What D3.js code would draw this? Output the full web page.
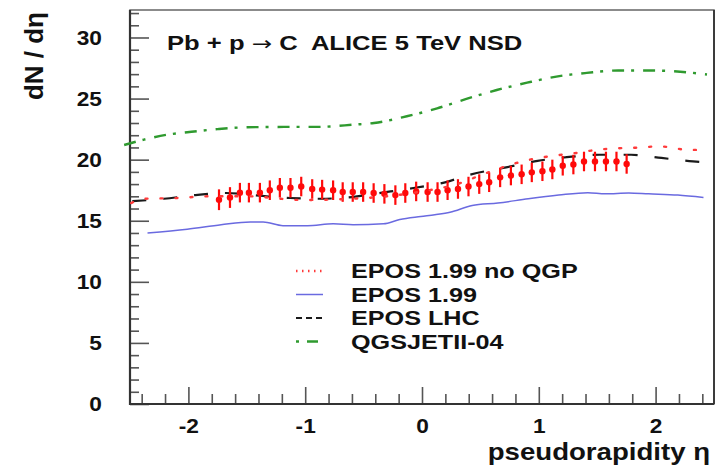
<!DOCTYPE html>
<html><head><meta charset="utf-8">
<script src="https://cdn.jsdelivr.net/npm/d3@7"></script>
<style>
body{margin:0;background:#fff}
svg text{font-family:"Liberation Sans",Arial,Helvetica,sans-serif;font-weight:bold;fill:#111;white-space:pre}
</style>
</head><body>
<svg id="chart" width="716" height="469"></svg>
<script>
// ---- Data ----
const dataEta = [-1.738,-1.644,-1.559,-1.482,-1.388,-1.303,-1.217,-1.126,-1.034,-0.940,
  -0.855,-0.761,-0.679,-0.593,-0.504,-0.414,-0.322,-0.228,-0.143,-0.050,
  0.048,0.133,0.219,0.308,0.398,0.490,0.575,0.669,0.761,0.853,
  0.940,1.031,1.116,1.205,1.296,1.387,1.481,1.575,1.665,1.752];
const dataDNdEta = [16.72,16.9,17.3,17.3,17.3,17.5,17.7,17.7,17.8,17.6,
  17.55,17.5,17.35,17.35,17.35,17.27,17.2,17.1,17.27,17.4,
  17.35,17.35,17.5,17.6,17.8,18.0,18.15,18.55,18.7,18.8,
  18.96,19.05,19.2,19.5,19.6,19.85,19.85,19.85,19.85,19.65];
const dataErr = [0.85,0.85,0.8,0.8,0.8,0.8,0.8,0.8,0.8,0.8,
  0.8,0.8,0.8,0.8,0.8,0.8,0.8,0.8,0.8,0.8,
  0.8,0.8,0.8,0.8,0.8,0.8,0.8,0.8,0.8,0.8,
  0.8,0.8,0.8,0.8,0.8,0.8,0.8,0.8,0.8,0.8];

const eposNoQgpEta = [-2.49,-2.37,-2.09,-1.83,-1.5,-1.03,-0.5,0.0,0.3,0.55,0.81,0.95,1.09,1.36,1.49,1.62,1.75,1.89,2.02,2.29,2.44];
const eposNoQgpVal = [16.45,16.8,16.86,17.0,17.0,16.7,16.85,17.4,18.0,18.9,19.73,20.05,20.27,20.6,20.8,20.9,20.96,21.0,21.1,20.8,20.8];

const epos199Eta = [-2.35,-2.01,-1.72,-1.47,-1.36,-1.19,-0.98,-0.76,-0.59,-0.33,-0.19,-0.01,0.11,0.24,0.43,0.65,0.91,1.17,1.42,1.57,1.77,1.94,2.19,2.41];
const epos199Val = [14.0,14.3,14.67,14.9,14.9,14.6,14.6,14.75,14.67,14.75,15.1,15.35,15.5,15.7,16.25,16.45,16.8,17.1,17.3,17.2,17.27,17.2,17.1,16.9];

const eposLhcEta = [-2.48,-2.21,-1.94,-1.68,-1.39,-1.13,-0.87,-0.60,-0.34,-0.06,0.18,0.41,0.72,0.99,1.24,1.52,1.79,2.05,2.32,2.42];
const eposLhcVal = [16.6,16.8,17.1,17.27,17.05,16.86,16.8,16.94,17.3,17.7,18.1,18.77,19.37,19.9,20.2,20.4,20.4,20.14,19.86,19.8];

const qgsjetEta = [-2.55,-2.38,-2.18,-2.01,-1.75,-1.50,-1.18,-0.90,-0.58,-0.41,-0.13,0.13,0.38,0.64,0.90,1.15,1.41,1.68,1.95,2.21,2.44];
const qgsjetVal = [21.2,21.64,22.05,22.24,22.5,22.65,22.68,22.68,22.87,23.0,23.55,24.2,24.97,25.7,26.3,26.8,27.1,27.3,27.3,27.2,26.97];

const xMajorTicks = [-2,-1,0,1,2];
const xTickLabels = ["-2","-1","0","1","2"];
const yMajorTicks = [0,5,10,15,20,25,30];
const yTickLabels = ["0","5","10","15","20","25","30"];
const legendLabels = ["EPOS 1.99 no QGP","EPOS 1.99","EPOS LHC","QGSJETII-04"];
const titleParts = ["Pb + p ", "\u2192", " C  ALICE 5 TeV NSD"];
const xTitle = "pseudorapidity \u03b7";
const yTitle = "dN / d\u03b7";

// ---- Layout ----
const L = 130, R = 714, T = 10, B = 404;
const svg = d3.select("#chart");
const x = d3.scaleLinear().domain([-2.5, 2.5]).range([L, R]);
const y = d3.scaleLinear().domain([0, 32.25]).range([B, T]);

// frame
svg.append("rect").attr("x", L).attr("y", T).attr("width", R - L).attr("height", B - T)
  .attr("fill", "none").attr("stroke", "#666").attr("stroke-width", 1.5);

// minor ticks
const xMinor = d3.range(-2.4, 2.5, 0.2).filter(v => Math.abs(v - Math.round(v)) > 1e-6);
const yMinor = d3.range(1, 32.1, 1).filter(v => v % 5 !== 0);

const gxMin = svg.append("g").attr("transform", `translate(0,${B})`)
  .call(d3.axisBottom(x).tickValues(xMinor).tickSize(-10).tickFormat(""));
const gyMin = svg.append("g").attr("transform", `translate(${L},0)`)
  .call(d3.axisLeft(y).tickValues(yMinor).tickSize(-9).tickFormat(""));

const tickSx = 1.08;
const gx = svg.append("g").attr("transform", `translate(0,${B})`)
  .call(d3.axisBottom(x).tickValues(xMajorTicks).tickSize(-17).tickPadding(14)
    .tickFormat((d, i) => xTickLabels[i]));
const gy = svg.append("g").attr("transform", `translate(${L},0)`)
  .call(d3.axisLeft(y).tickValues(yMajorTicks).tickSize(-19).tickPadding(26)
    .tickFormat((d, i) => yTickLabels[i]));

[gx, gy, gxMin, gyMin].forEach(g => {
  g.select(".domain").remove();
  g.selectAll(".tick line").attr("stroke", "#555").attr("stroke-width", 1.6);
  g.selectAll(".tick text").style("font-size", "21px").attr("fill", "#111")
    .attr("transform", `scale(${tickSx},1)`);
});

// axis lines
svg.append("line").attr("x1", L).attr("x2", L).attr("y1", T).attr("y2", B + 1)
  .attr("stroke", "#333").attr("stroke-width", 2.2);
svg.append("line").attr("x1", L - 1).attr("x2", R).attr("y1", B).attr("y2", B)
  .attr("stroke", "#333").attr("stroke-width", 2.2);
svg.append("line").attr("x1", R).attr("x2", R).attr("y1", T).attr("y2", B)
  .attr("stroke", "#333").attr("stroke-width", 1.8);

// ---- curves ----
const line = d3.line().x(d => x(d[0])).y(d => y(d[1])).curve(d3.curveMonotoneX);
const zip = (a, b) => a.map((v, i) => [v, b[i]]);

const styles = [
  {color: "#ff3a3a", width: 2.4, dash: "2,13", cap: "round"},
  {color: "#6a6ae0", width: 1.5, dash: null, cap: "butt"},
  {color: "#1a1a1a", width: 2.2, dash: "14,17", cap: "butt"},
  {color: "#2f9a2f", width: 2.4, dash: "12,7,3,9", cap: "butt"}
];
const legendDash = ["1.5,4.5", null, "6,4", "3,8,8,0"];

const curves = [
  zip(eposNoQgpEta, eposNoQgpVal),
  zip(epos199Eta, epos199Val),
  zip(eposLhcEta, eposLhcVal),
  zip(qgsjetEta, qgsjetVal)
];

[1, 3, 2].forEach(i => {
  svg.append("path").attr("d", line(curves[i])).attr("fill", "none")
    .attr("stroke", styles[i].color).attr("stroke-width", styles[i].width)
    .attr("stroke-dasharray", styles[i].dash).attr("stroke-linecap", styles[i].cap);
});

// data points with error bars
const pts = dataEta.map((e, i) => ({e, v: dataDNdEta[i], err: dataErr[i]}));
const gp = svg.append("g");
gp.selectAll("line").data(pts).join("line")
  .attr("x1", d => x(d.e)).attr("x2", d => x(d.e))
  .attr("y1", d => y(d.v - d.err)).attr("y2", d => y(d.v + d.err))
  .attr("stroke", "#ff0a0a").attr("stroke-width", 2.2);
gp.selectAll("circle").data(pts).join("circle")
  .attr("cx", d => x(d.e)).attr("cy", d => y(d.v)).attr("r", 3.2)
  .attr("fill", "#ff0a0a");

svg.append("path").attr("d", line(curves[0])).attr("fill", "none")
  .attr("stroke", styles[0].color).attr("stroke-width", styles[0].width)
  .attr("stroke-dasharray", styles[0].dash).attr("stroke-linecap", styles[0].cap);

// ---- legend ----
const legSx = 1.26;
const lg = svg.append("g");
legendLabels.forEach((lab, i) => {
  const by = 278 + i * 23.5;
  lg.append("line").attr("x1", 296).attr("x2", 323).attr("y1", by - 7).attr("y2", by - 7)
    .attr("stroke", styles[i].color).attr("stroke-width", styles[i].width)
    .attr("stroke-dasharray", legendDash[i]);
  lg.append("text").attr("transform", `translate(351,${by}) scale(${legSx},1)`)
    .style("font-size", "20px").text(lab);
});

// ---- titles ----
const tt = svg.append("text").attr("transform", `translate(167,50) scale(1.28,1)`)
  .style("font-size", "20px");
tt.append("tspan").text(titleParts[0]);
tt.append("tspan").style("font-family", "'DejaVu Sans',sans-serif").style("font-weight", "normal")
  .style("font-size", "19px").text(titleParts[1]);
tt.append("tspan").text(titleParts[2]);

svg.append("text").attr("transform", "translate(710,460) scale(1.2,1)").attr("text-anchor", "end")
  .style("font-size", "23px").text(xTitle);
svg.append("text").attr("transform", "translate(43,12) rotate(-90)").attr("text-anchor", "end")
  .style("font-size", "26px").text(yTitle);
</script>
</body></html>
